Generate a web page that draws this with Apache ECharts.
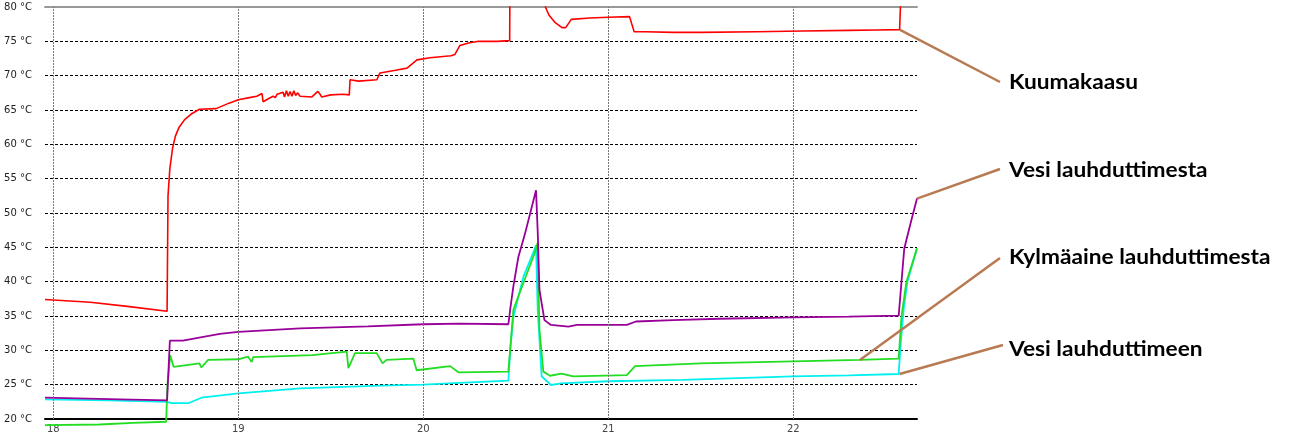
<!DOCTYPE html>
<html>
<head>
<meta charset="utf-8">
<script src="https://cdn.jsdelivr.net/npm/echarts@6/dist/echarts.min.js"></script>
<style>
html,body{margin:0;padding:0;background:#fff;}
#chart{width:1292px;height:434px;}
</style>
</head>
<body>
<div id="chart"></div>
<script>
// Time in hours (clock), temperatures in °C
const hourTicks = [18, 19, 20, 21, 22];
const tempTicksMin = 20, tempTicksMax = 80, tempStep = 5;

const redHours = [17.955, 18.2, 18.4, 18.615, 18.62, 18.63, 18.645, 18.66, 18.68, 18.71, 18.75, 18.79, 18.88, 18.95, 19.0, 19.06, 19.1, 19.128, 19.134, 19.16, 19.188, 19.2, 19.21, 19.242, 19.25, 19.26, 19.27, 19.28, 19.29, 19.3, 19.31, 19.32, 19.334, 19.398, 19.43, 19.442, 19.45, 19.5, 19.566, 19.6, 19.604, 19.65, 19.749, 19.766, 19.85, 19.912, 19.966, 20.036, 20.15, 20.171, 20.198, 20.25, 20.3, 20.4, 20.467, 20.47, 20.655, 20.66, 20.68, 20.71, 20.75, 20.77, 20.8, 20.9, 21.0, 21.115, 21.14, 21.2, 21.35, 21.5, 21.8, 22.05, 22.3, 22.45, 22.575, 22.59, 22.669];
const redTemps = [37.4, 37.0, 36.4, 35.7, 52.5, 56.5, 59.5, 61.2, 62.5, 63.6, 64.5, 65.1, 65.2, 66.0, 66.5, 66.8, 67.0, 67.4, 66.2, 66.6, 67.0, 66.8, 67.3, 67.6, 66.9, 67.8, 67.0, 67.7, 67.0, 67.8, 67.1, 67.5, 67.0, 66.9, 67.7, 67.3, 66.9, 67.2, 67.3, 67.2, 69.4, 69.2, 69.4, 70.4, 70.8, 71.1, 72.3, 72.6, 72.9, 73.1, 74.4, 74.8, 75.0, 75.0, 75.1, 92, 92, 80.0, 78.8, 77.8, 77.0, 77.0, 78.2, 78.4, 78.5, 78.6, 76.4, 76.4, 76.3, 76.3, 76.4, 76.5, 76.6, 76.65, 76.7, 88, 95];

const purpleHours = [17.955, 18.3, 18.615, 18.63, 18.7, 18.9, 19.0, 19.334, 19.7, 20.0, 20.2, 20.46, 20.47, 20.487, 20.514, 20.55, 20.6095, 20.619, 20.628, 20.655, 20.69, 20.785, 20.83, 21.1, 21.15, 21.35, 21.6, 22.0, 22.3, 22.57, 22.6, 22.636, 22.669];
const purpleTemps = [23.1, 22.9, 22.7, 31.4, 31.4, 32.4, 32.7, 33.2, 33.5, 33.8, 33.9, 33.8, 36.0, 39.3, 43.6, 47.0, 53.3, 47.0, 38.8, 34.4, 33.7, 33.45, 33.7, 33.7, 34.2, 34.4, 34.6, 34.8, 34.9, 35.05, 44.8, 48.7, 52.1];

const greenHours = [17.955, 18.25, 18.43, 18.61, 18.617, 18.632, 18.65, 18.79, 18.8, 18.837, 19.0, 19.052, 19.072, 19.08, 19.4, 19.586, 19.595, 19.631, 19.748, 19.78, 19.801, 19.946, 19.964, 20.145, 20.19, 20.46, 20.487, 20.541, 20.6, 20.6175, 20.628, 20.649, 20.685, 20.748, 20.81, 21.1, 21.145, 21.5, 22.0, 22.36, 22.57, 22.585, 22.612, 22.669];
const greenTemps = [19.1, 19.2, 19.45, 19.6, 25.0, 29.3, 27.6, 28.1, 27.5, 28.6, 28.7, 29.1, 28.3, 29.0, 29.3, 29.8, 27.4, 29.6, 29.6, 28.1, 28.6, 28.8, 27.1, 27.7, 26.8, 26.9, 35.9, 39.8, 44.0, 45.6, 33.0, 26.9, 26.3, 26.6, 26.2, 26.4, 27.7, 28.1, 28.4, 28.6, 28.8, 34.9, 40.0, 44.85];

const cyanHours = [17.955, 18.3, 18.615, 18.64, 18.73, 18.8, 19.0, 19.334, 19.77, 20.0, 20.14, 20.46, 20.47, 20.487, 20.541, 20.6, 20.6095, 20.6185, 20.64, 20.69, 20.745, 21.0, 21.4, 22.0, 22.3, 22.57, 22.581, 22.597, 22.617, 22.669];
const cyanTemps = [22.87, 22.7, 22.5, 22.3, 22.3, 23.1, 23.74, 24.47, 24.85, 25.0, 25.2, 25.6, 30.05, 34.9, 40.7, 44.6, 45.3, 35.9, 26.2, 24.95, 25.2, 25.5, 25.7, 26.2, 26.35, 26.55, 31.0, 36.0, 40.0, 44.85];

const seriesNames = ['Kuumakaasu', 'Vesi lauhduttimesta', 'Kylmäaine lauhduttimesta', 'Vesi lauhduttimeen'];

function pairs(xs, ys) { return xs.map((x, i) => [x, ys[i]]); }

const chart = echarts.init(document.getElementById('chart'), null, {renderer: 'canvas'});

const xMin = 17.955, xMax = 22.669;

const lineCommon = {type: 'line', showSymbol: false, symbol: 'none', clip: true, animation: false, silent: true};

const option = {
  animation: false,
  backgroundColor: '#ffffff',
  grid: {left: 45, right: 375, top: 7, bottom: 15, containLabel: false},
  xAxis: [{
    type: 'value', min: xMin, max: xMax, position: 'bottom',
    axisLine: {show: true, onZero: false, lineStyle: {color: '#000', width: 2}},
    axisTick: {show: false, customValues: hourTicks},
    axisLabel: {show: true, customValues: hourTicks, color: '#444', fontFamily: 'DejaVu Sans', fontSize: 10, margin: 5},
    splitLine: {show: false}
  }, {
    type: 'value', min: xMin, max: xMax, position: 'top',
    axisLine: {show: true, onZero: false, lineStyle: {color: '#999', width: 2}},
    axisTick: {show: false}, axisLabel: {show: false}, splitLine: {show: false}
  }],
  yAxis: {
    type: 'value', min: tempTicksMin, max: tempTicksMax, interval: tempStep,
    axisLine: {show: false}, axisTick: {show: false},
    axisLabel: {formatter: '{value} °C', color: '#222', fontFamily: 'DejaVu Sans', fontSize: 10, margin: 13},
    splitLine: {show: true, lineStyle: {color: '#000', type: [3, 2], width: 1}}
  },
  series: [
    Object.assign({}, lineCommon, {
      name: 'grid', data: [], z: 1,
      markLine: {
        silent: true, symbol: 'none', animation: false,
        label: {show: false},
        lineStyle: {color: '#777', type: [2, 1], width: 1},
        data: hourTicks.map(h => ({xAxis: h}))
      }
    }),
    Object.assign({}, lineCommon, {name: seriesNames[0], data: pairs(redHours, redTemps), lineStyle: {color: '#ff0000', width: 1.6}, z: 5}),
    Object.assign({}, lineCommon, {name: seriesNames[1], data: pairs(purpleHours, purpleTemps), lineStyle: {color: '#990099', width: 1.8}, z: 4}),
    Object.assign({}, lineCommon, {name: seriesNames[2], data: pairs(greenHours, greenTemps), clip: false, lineStyle: {color: '#22dd22', width: 1.8}, z: 3}),
    Object.assign({}, lineCommon, {name: seriesNames[3], data: pairs(cyanHours, cyanTemps), lineStyle: {color: '#00f0f0', width: 1.8}, z: 2})
  ]
};
chart.setOption(option);

// Leader lines + callout labels, anchored to data points
const anchors = [
  {name: seriesNames[0], pt: [22.575, 76.7], end: [1000, 82], text: [1009, 82]},
  {name: seriesNames[1], pt: [22.669, 52.1], end: [1000, 169], text: [1009, 170]},
  {name: seriesNames[2], pt: [22.36, 28.6], end: [1000, 258], text: [1009, 257]},
  {name: seriesNames[3], pt: [22.575, 26.55], end: [1003, 345], text: [1009, 349]}
];
const graphics = [];
anchors.forEach(a => {
  const p = chart.convertToPixel({xAxisIndex: 0, yAxisIndex: 0}, a.pt);
  graphics.push({type: 'line', shape: {x1: p[0], y1: p[1], x2: a.end[0], y2: a.end[1]},
    style: {stroke: '#b87a52', lineWidth: 2.5}, z: 100, silent: true});
  graphics.push({type: 'text', x: a.text[0], y: a.text[1], scaleX: 1.08,
    style: {text: a.name, fill: '#000', font: 'bold 21px Lato', textVerticalAlign: 'middle', textAlign: 'left'}, z: 100, silent: true});
});
chart.setOption({graphic: graphics});
</script>
</body>
</html>
